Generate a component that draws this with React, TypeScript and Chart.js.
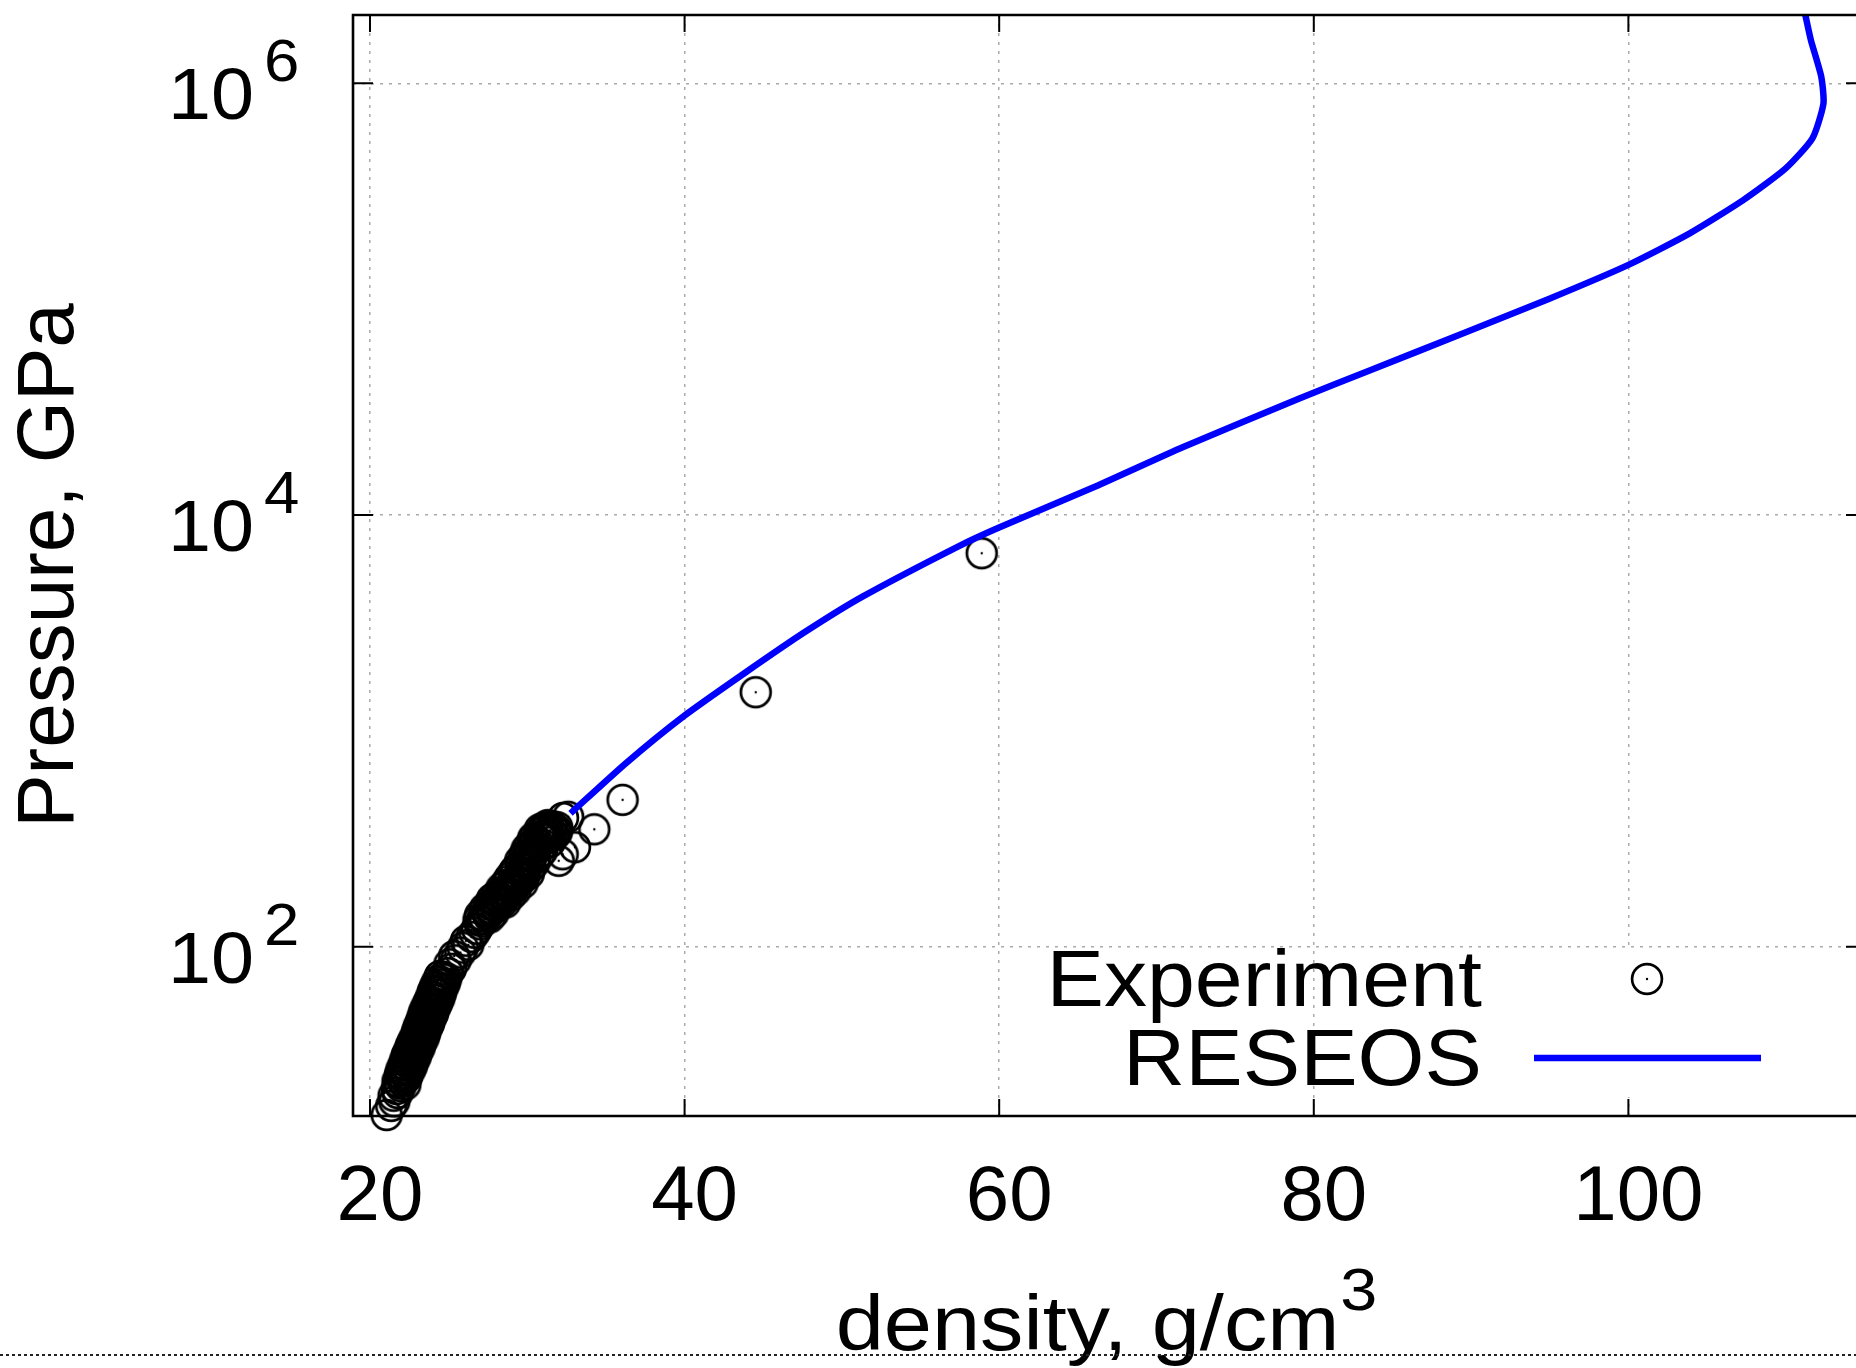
import React, { useEffect, useRef } from 'react';
import { Chart, registerables } from 'chart.js';

Chart.register(...registerables);

// ---- axis setup ----
const X_TICKS = [20, 40, 60, 80, 100];
const Y_TICKS = [1e2, 1e4, 1e6];
const X_MIN = 18.92;
const X_MAX = 114.47;
const Y_MIN = 16.43;
const Y_MAX = 2.073e6;

const X_TITLE = 'density, g/cm';
const X_TITLE_SUP = '3';
const Y_TITLE = 'Pressure, GPa';
const LEGEND_LABELS = ['Experiment', 'RESEOS'];

// ---- RESEOS curve ----
const RESEOS_DENSITY = [
  32.75, 36.27, 39.91, 43.8, 47.67, 51.31, 57.38, 59.92, 66.12, 71.7, 79.12, 83.63,
  89.27, 94.9, 99.97, 103.9, 107.3, 110.0, 111.7, 112.4, 112.26, 111.6, 111.25,
];
const RESEOS_PRESSURE = [
  415, 708, 1164, 1849, 2877, 4188, 7145, 8710, 13552, 20654, 34754, 46990,
  68391, 100000, 143880, 201837, 287740, 403645, 555904, 805378, 1074000, 1588000, 2073000,
];

// ---- Experiment points ----
const EXP_DENSITY = [
  21.06, 21.35, 21.55, 21.5, 21.75, 21.7,
  21.95, 21.85, 22.05, 22.2, 22.0, 22.3, 22.15, 22.4, 22.3, 22.55, 22.4, 22.65, 22.5, 22.8,
  22.65, 22.9, 22.75, 23.0, 22.9, 23.15, 23.0, 23.3, 23.15, 23.4, 23.25, 23.5, 23.4, 23.65,
  23.5, 23.75, 23.6, 23.9, 23.75, 24.0, 23.9, 24.15, 24.05, 24.3, 24.2, 24.45, 24.35, 24.6,
  24.5, 24.75, 24.65,
  22.25, 21.75, 22.35, 21.9, 22.5, 22.0, 22.65, 22.15, 22.75, 22.25, 22.9, 22.35, 23.0, 22.5,
  23.15, 22.6, 23.25, 22.75, 23.4, 22.9, 23.5, 23.0, 23.6, 23.1, 23.75, 23.25, 23.85, 23.35,
  24.0, 23.45, 24.1, 23.6, 24.25, 23.75, 24.4, 23.9, 24.5, 24.0, 24.6, 24.15, 24.75, 24.3,
  24.85, 24.45,
  24.95, 25.15, 25.05, 25.45, 25.35, 25.75, 25.9, 26.25, 26.1, 26.45, 26.65, 26.8, 27.0,
  27.1, 27.3, 27.2, 27.5, 27.45, 27.7, 27.6, 27.9, 28.1, 27.95, 28.3, 28.2, 28.55, 28.45,
  28.8, 28.65, 29.0, 28.85, 29.2, 29.05, 29.4, 29.25, 29.6, 29.45, 29.8, 29.65, 29.9, 29.75,
  29.8, 30.1, 29.9, 30.25, 30.05, 30.4, 30.2, 30.55, 30.35, 30.7, 30.5, 30.95, 30.75, 31.2,
  31.0, 31.45, 31.2, 31.6, 31.35, 31.9, 31.55, 31.3, 31.75, 31.1,
  27.75, 28.6, 28.35, 29.25, 28.75, 29.7, 29.15, 30.1, 29.55, 30.5, 29.95, 30.95, 30.35, 31.45,
  30.85, 31.85,
  26.9, 27.6, 27.0, 27.85, 27.3, 28.05, 27.6, 28.4, 28.0, 28.95, 28.3, 29.1, 28.6, 29.5,
  28.9, 29.8, 29.3, 30.2, 29.6, 30.45, 29.8, 30.7, 30.1, 31.0, 30.4, 31.3, 30.8, 31.7,
  31.05, 31.9,
  32.6, 32.27, 32.25, 32.0, 33.03, 34.26, 36.06, 44.52, 58.89,
];
const EXP_PRESSURE = [
  16.6, 18.3, 19.2, 20.4, 21.0, 21.9,
  22.6, 23.3, 24.0, 24.6, 25.3, 25.9, 26.7, 27.3, 28.1, 28.8, 29.6, 30.4, 31.2, 31.9,
  32.8, 33.6, 34.5, 35.3, 36.2, 37.1, 38.0, 39.0, 40.0, 41.1, 42.2, 43.3, 44.5, 45.7,
  46.9, 48.2, 49.5, 50.8, 52.2, 53.6, 55.1, 56.6, 58.2, 59.8, 61.4, 63.1, 64.9, 66.7,
  68.5, 70.4, 72.4,
  23.0, 23.8, 24.9, 25.6, 26.4, 27.0, 27.8, 28.5, 29.2, 30.0, 30.8, 31.6, 32.4, 33.2,
  34.0, 34.9, 35.8, 36.7, 37.6, 38.5, 39.5, 40.6, 41.7, 42.8, 43.9, 45.1, 46.3, 47.5,
  48.8, 50.1, 51.5, 52.9, 54.3, 55.8, 57.4, 59.0, 60.6, 62.2, 64.0, 65.8, 67.6, 69.4,
  71.3, 73.2,
  75.5, 79.0, 83.0, 86.5, 90.5, 94.0, 99.0, 102.0, 106.5, 111.0, 116.0, 121.0, 127.0,
  131.0, 134.5, 138.5, 141.0, 145.0, 148.0, 152.0, 155.0, 158.0, 162.0, 164.0, 168.5, 171.0, 175.0,
  177.0, 181.0, 184.0, 188.0, 191.0, 195.5, 199.0, 203.0, 207.0, 212.0, 216.0, 221.0, 226.0, 231.0,
  242.0, 248.0, 254.0, 260.0, 267.0, 273.0, 280.0, 287.0, 294.0, 301.0, 309.0, 316.0, 324.0, 331.0,
  339.0, 346.0, 354.0, 360.0, 335.0, 358.0, 362.0, 366.0, 350.0, 322.0,
  166.0, 160.0, 186.0, 182.0, 201.0, 197.0, 222.0, 218.0, 250.0, 256.0, 282.0, 278.0, 312.0, 306.0,
  342.0, 336.0,
  133.0, 136.5, 140.0, 143.0, 150.0, 153.0, 157.0, 160.5, 171.0, 173.0, 179.0, 186.0, 193.0, 201.0,
  209.0, 211.0, 229.0, 233.0, 238.0, 245.0, 264.0, 264.0, 290.0, 297.0, 320.0, 318.0, 350.0, 328.0,
  356.0, 345.0,
  400.0, 395.0, 268.0, 250.0, 289.0, 350.0, 479.0, 1510.0, 6653.0,
];

const FONT = "'Liberation Sans', Arial, Helvetica, sans-serif";

function makeMarker(): HTMLCanvasElement {
  const c = document.createElement('canvas');
  c.width = 38;
  c.height = 38;
  const g = c.getContext('2d')!;
  g.strokeStyle = '#000';
  g.lineWidth = 2.7;
  g.beginPath();
  g.arc(19, 19, 14.9, 0, Math.PI * 2);
  g.stroke();
  g.fillStyle = '#000';
  g.beginPath();
  g.arc(19, 19, 1.2, 0, Math.PI * 2);
  g.fill();
  return c;
}

function stretchedText(
  ctx: CanvasRenderingContext2D,
  text: string,
  x: number,
  y: number,
  size: number,
  sx: number,
  align: CanvasTextAlign,
) {
  ctx.save();
  ctx.font = `${size}px ${FONT}`;
  ctx.textAlign = align;
  ctx.textBaseline = 'alphabetic';
  ctx.translate(x, y);
  ctx.scale(sx, 1);
  ctx.fillText(text, 0, 0);
  ctx.restore();
}

export default function App() {
  const ref = useRef<HTMLCanvasElement | null>(null);

  useEffect(() => {
    if (!ref.current) return;
    const marker = makeMarker();

    const decor = {
      id: 'decor',
      beforeDatasetsDraw(chart: any) {
        const ctx = chart.ctx;
        ctx.save();
        ctx.fillStyle = '#ffffff';
        ctx.fillRect(1586, 950, 225, 147);
        ctx.restore();
      },
      afterDraw(chart: any) {
        const ctx = chart.ctx as CanvasRenderingContext2D;
        const area = chart.chartArea;
        const xs = chart.scales.x;
        const ys = chart.scales.y;
        ctx.save();
        // frame
        ctx.strokeStyle = '#000';
        ctx.lineWidth = 2.6;
        ctx.beginPath();
        ctx.moveTo(area.right + 2, area.top);
        ctx.lineTo(area.left, area.top);
        ctx.lineTo(area.left, area.bottom);
        ctx.lineTo(area.right + 2, area.bottom);
        ctx.stroke();
        // inward tick marks
        ctx.lineWidth = 2;
        ctx.beginPath();
        for (const t of xs.ticks) {
          const px = xs.getPixelForValue(t.value);
          ctx.moveTo(px, area.bottom);
          ctx.lineTo(px, area.bottom - 17);
          ctx.moveTo(px, area.top);
          ctx.lineTo(px, area.top + 17);
        }
        for (const t of ys.ticks) {
          const py = ys.getPixelForValue(t.value);
          ctx.moveTo(area.left, py);
          ctx.lineTo(area.left + 20, py);
          ctx.moveTo(area.right, py);
          ctx.lineTo(area.right - 10, py);
        }
        ctx.stroke();
        // y tick labels 10^n
        ctx.fillStyle = '#000';
        for (const t of ys.ticks) {
          const py = ys.getPixelForValue(t.value);
          const exp = Math.round(Math.log10(t.value));
          stretchedText(ctx, '10', 254, py + 36, 73, 1.06, 'right');
          stretchedText(ctx, String(exp), 264, py - 2, 60, 1.06, 'left');
        }
        // x title with superscript
        const sx = 1.11;
        ctx.font = `78px ${FONT}`;
        const mainW = ctx.measureText(X_TITLE).width * sx;
        ctx.font = `60px ${FONT}`;
        const supW = ctx.measureText(X_TITLE_SUP).width * sx;
        const startX = 1106 - (mainW + supW) / 2;
        stretchedText(ctx, X_TITLE, startX, 1350, 78, sx, 'left');
        stretchedText(ctx, X_TITLE_SUP, startX + mainW + 1, 1310, 60, sx, 'left');
        // dashed rule at bottom
        ctx.strokeStyle = '#222';
        ctx.lineWidth = 2;
        ctx.setLineDash([3, 3]);
        ctx.beginPath();
        ctx.moveTo(0, 1355);
        ctx.lineTo(1856, 1355);
        ctx.stroke();
        ctx.setLineDash([]);
        // legend
        stretchedText(ctx, LEGEND_LABELS[0], 1482, 1006, 79, 1.09, 'right');
        stretchedText(ctx, LEGEND_LABELS[1], 1482, 1085, 79, 1.09, 'right');
        ctx.drawImage(marker, 1647 - 19, 979 - 19);
        ctx.strokeStyle = '#0000ff';
        ctx.lineWidth = 6.5;
        ctx.beginPath();
        ctx.moveTo(1534, 1058);
        ctx.lineTo(1761, 1058);
        ctx.stroke();
        ctx.restore();
      },
    };

    const gridOpts = { color: '#aaaaaa', lineWidth: 1.5, drawTicks: false };

    const chart = new Chart(ref.current, {
      type: 'scatter',
      data: {
        datasets: [
          {
            label: LEGEND_LABELS[1],
            data: RESEOS_DENSITY.map((x, i) => ({ x, y: RESEOS_PRESSURE[i] })),
            showLine: true,
            borderColor: '#0000ff',
            backgroundColor: '#0000ff',
            borderWidth: 6.5,
            pointRadius: 0,
            tension: 0.2,
            order: 0,
          },
          {
            label: LEGEND_LABELS[0],
            data: EXP_DENSITY.map((x, i) => ({ x, y: EXP_PRESSURE[i] })),
            showLine: false,
            pointStyle: marker,
            pointRadius: 15,
            borderColor: '#000',
            backgroundColor: 'rgba(0,0,0,0)',
            clip: false,
            order: 1,
          },
        ],
      },
      options: {
        animation: false,
        responsive: false,
        devicePixelRatio: 1,
        events: [],
        layout: { autoPadding: false, padding: { top: 15, left: 0, right: 0, bottom: 0 } },
        plugins: { legend: { display: false }, tooltip: { enabled: false } },
        scales: {
          x: {
            type: 'linear',
            min: X_MIN,
            max: X_MAX,
            bounds: 'data',
            afterBuildTicks: (s: any) => {
              s.ticks = X_TICKS.map((value) => ({ value }));
            },
            afterFit: (s: any) => {
              s.height = 252;
              s.paddingLeft = 0;
              s.paddingRight = 0;
            },
            grid: gridOpts,
            border: { display: false, dash: [3, 6] },
            ticks: {
              color: '#000',
              font: { size: 78, family: FONT },
              padding: 36,
              labelOffset: 10,
              maxRotation: 0,
              autoSkip: false,
              callback: (v: any) => String(v),
            },
          },
          y: {
            type: 'logarithmic',
            min: Y_MIN,
            max: Y_MAX,
            bounds: 'data',
            afterBuildTicks: (s: any) => {
              s.ticks = Y_TICKS.map((value) => ({ value }));
            },
            afterFit: (s: any) => {
              s.width = 353;
              s.paddingTop = 0;
              s.paddingBottom = 0;
            },
            grid: gridOpts,
            border: { display: false, dash: [3, 6] },
            ticks: { display: false },
            title: {
              display: true,
              text: Y_TITLE,
              color: '#000',
              font: { size: 80, family: FONT, lineHeight: 1 },
              padding: { top: 11, bottom: 0 },
            },
          },
        },
      } as any,
      plugins: [decor],
    });

    return () => chart.destroy();
  }, []);

  return (
    <div style={{ position: 'absolute', left: 0, top: 0, width: 1856, height: 1368, background: '#fff' }}>
      <canvas ref={ref} width={1856} height={1368} style={{ display: 'block' }} />
    </div>
  );
}
